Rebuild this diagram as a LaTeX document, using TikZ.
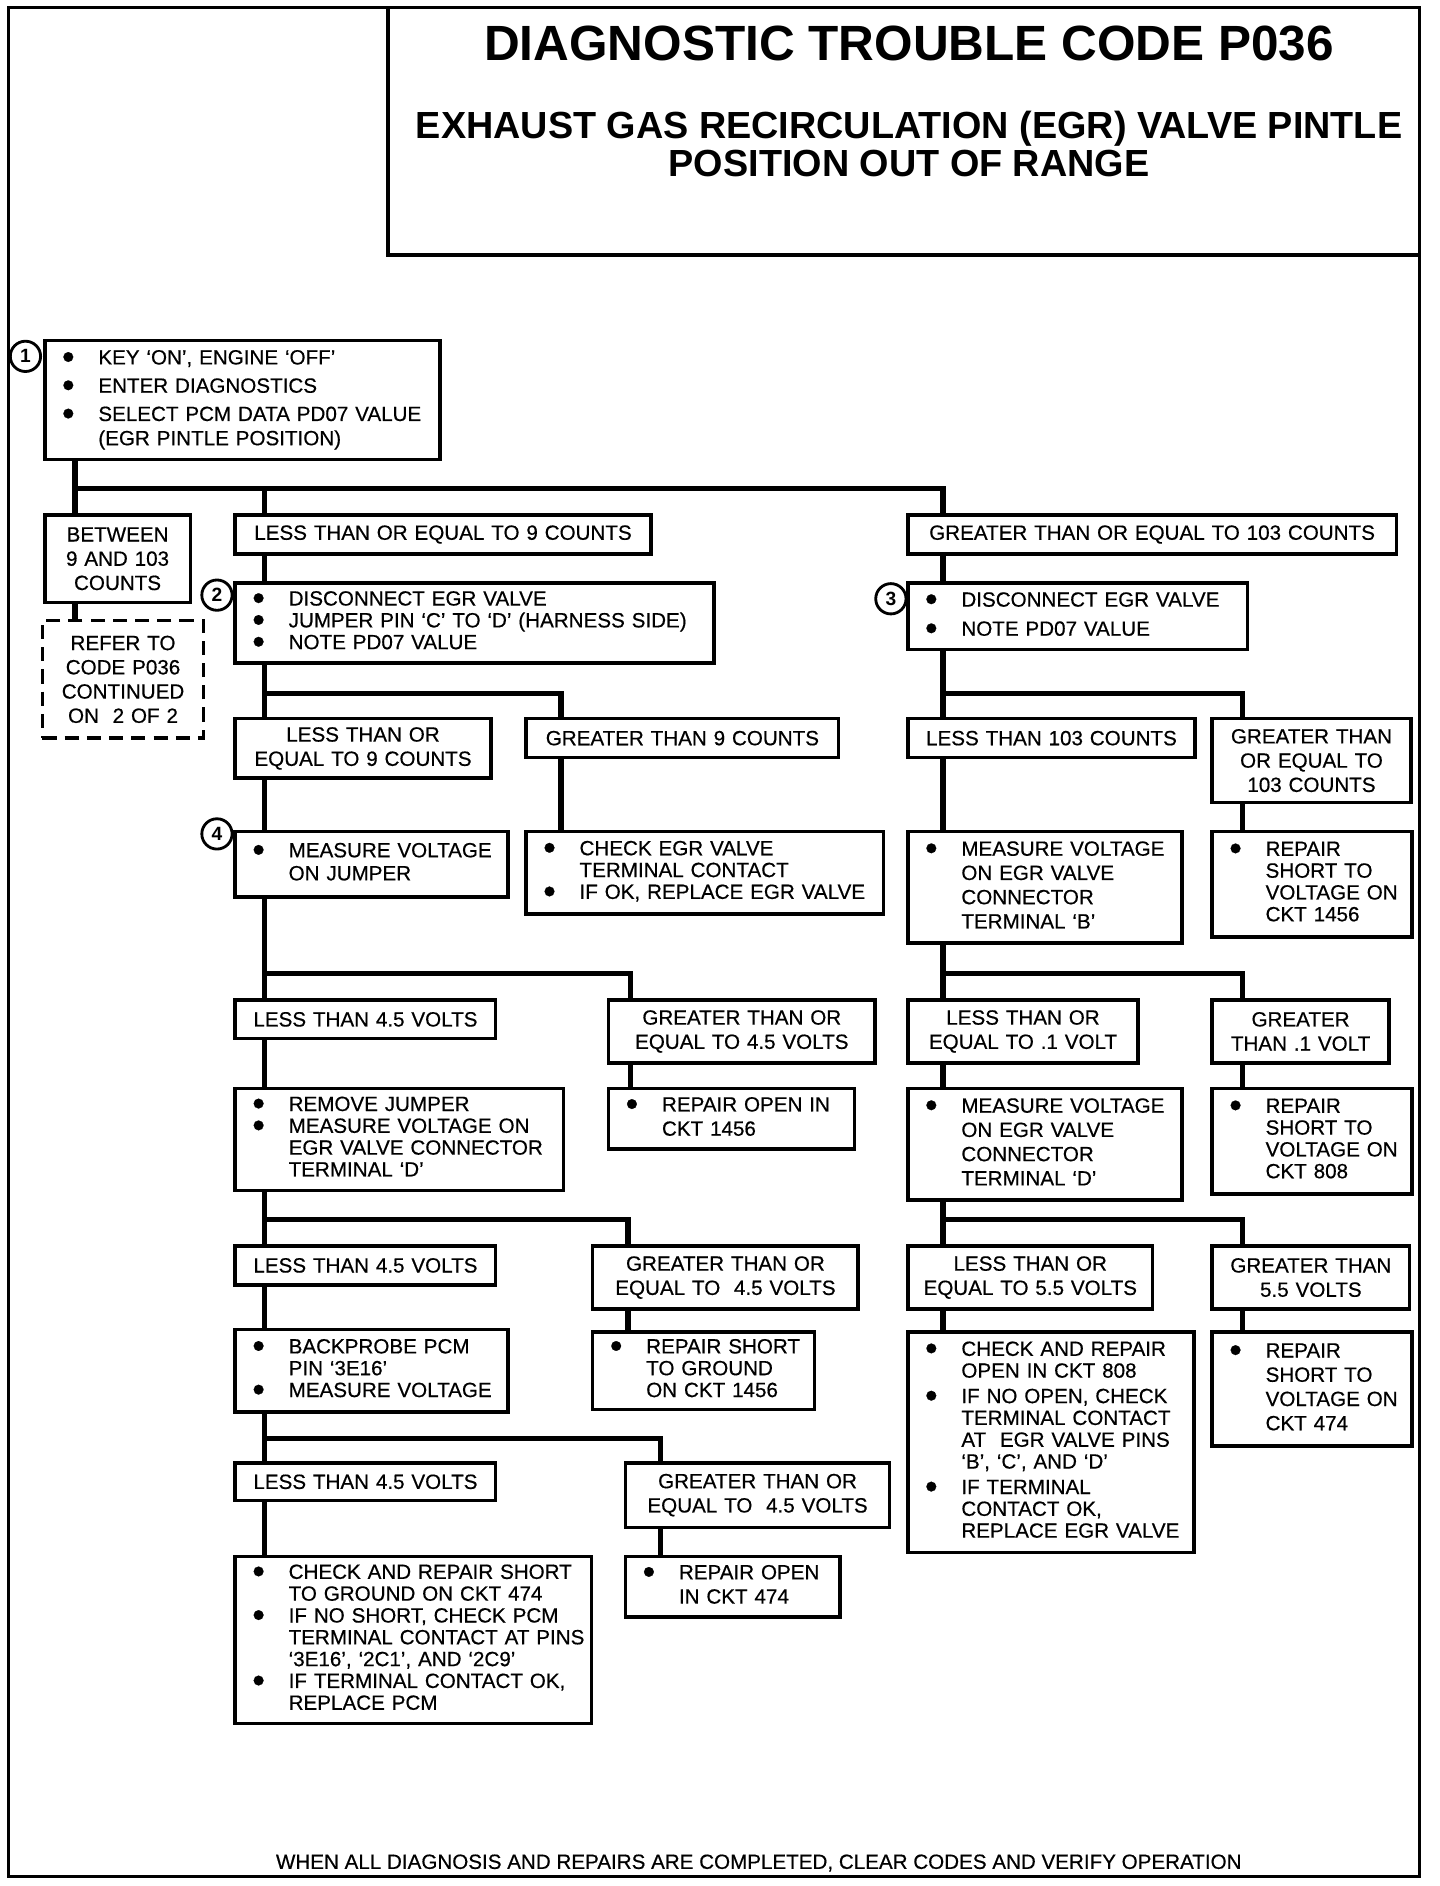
\documentclass[tikz,border=0pt]{standalone}
\usepackage{fontspec}
\setmainfont{Liberation Sans}
\newfontface\inkfont{Liberation Sans}[FakeBold=0.5,Ligatures=TeX]
\usepackage{graphicx}
\usetikzlibrary{calc}
\newcommand{\bul}{\hspace*{1pt}\raisebox{-0.22em}{\scalebox{1.75}{\textbullet}}}
\newenvironment{bl}{\begin{tabular}[c]{@{}p{19pt}@{}l@{}}}{\end{tabular}}
\newcommand{\BB}[7][]{%
  \pgfmathsetmacro{\bxw}{(#5-#3)*0.6}%
  \pgfmathsetmacro{\bxh}{(#6-#4)*0.6}%
  \pgfmathsetmacro{\bxt}{(#5-#3)*0.6-15}%
  \node[box,#1, inner xsep=7.5pt, align=left, minimum width=\bxw pt, minimum height=\bxh pt, text width=\bxt pt] (#2) at ({(#3+#5)/2},{(#4+#6)/2}) {#7};}
\newcommand{\CC}[7][]{%
  \pgfmathsetmacro{\bxw}{(#5-#3)*0.6}%
  \pgfmathsetmacro{\bxh}{(#6-#4)*0.6}%
  \pgfmathsetmacro{\bxt}{(#5-#3)*0.6-6}%
  \node[box, inner xsep=3pt, align=center, font=\inkfont\fontsize{10.2}{12}\selectfont, minimum width=\bxw pt, minimum height=\bxh pt, text width=\bxt pt,#1] (#2) at ({(#3+#5)/2},{(#4+#6)/2}) {#7};}
\begin{document}
\begin{tikzpicture}[x=0.6pt,y=-0.6pt,
  box/.style={draw, line width=1.7pt, inner ysep=0pt, font=\inkfont\fontsize{10.2}{10.8}\selectfont},
  conn/.style={line width=2.7pt},
  numc/.style={circle, draw, line width=1.4pt, minimum size=15pt, inner sep=0pt, font=\bfseries\fontsize{9.5}{9.5}\selectfont}]
\useasboundingbox (0,0) rectangle (1188,1556);
% frame and title box
\draw[line width=1.5pt] (7,6) -- (1171,6) -- (1171,1548) -- (7,1548) -- cycle;
\draw[line width=2pt] (320,6) -- (320,210) -- (1171,210);
\node[font=\fontsize{24.5}{28}\selectfont\bfseries] (title) at (750,36) {DIAGNOSTIC TROUBLE CODE P036};
\node[font=\fontsize{18.7}{18.6}\selectfont\bfseries, align=center] (sub) at (750,119) {EXHAUST GAS RECIRCULATION (EGR) VALVE PINTLE\\POSITION OUT OF RANGE};

% step boxes
\BB{b1}{37}{281}{363}{379}{\fontsize{10.2}{12}\selectfont\begin{bl}\bul & KEY `ON', ENGINE `OFF'\\[2pt] \bul & ENTER DIAGNOSTICS\\[2pt] \bul & SELECT PCM DATA PD07 VALUE\\ & (EGR PINTLE POSITION)\end{bl}}
\CC{bbet}{37}{425}{157}{497}{BETWEEN\\9 AND 103\\COUNTS}
\CC[dashed, dash pattern=on 7pt off 4pt]{bref}{35}{512}{168}{609}{REFER TO\\CODE P036\\CONTINUED\\ON~~2 OF 2}
\CC{ble9}{194}{425}{537}{457}{LESS THAN OR EQUAL TO 9 COUNTS}
\CC{bge103}{749}{425}{1152}{457}{GREATER THAN OR EQUAL TO 103 COUNTS}
\BB{b2}{194}{481}{589}{547}{\begin{bl}\bul & DISCONNECT EGR VALVE\\ \bul & JUMPER PIN `C' TO `D' (HARNESS SIDE)\\ \bul & NOTE PD07 VALUE\end{bl}}
\BB{b3}{749}{481}{1029}{536}{\fontsize{10.2}{12}\selectfont\begin{bl}\bul & DISCONNECT EGR VALVE\\[2.4pt] \bul & NOTE PD07 VALUE\end{bl}}
\CC{ble9b}{194}{593}{405}{642}{LESS THAN OR\\EQUAL TO 9 COUNTS}
\CC{bgt9}{434}{593}{692}{625}{GREATER THAN 9 COUNTS}
\CC{blt103}{749}{593}{986}{625}{LESS THAN 103 COUNTS}
\CC{bge103b}{1000}{593}{1164}{662}{GREATER THAN\\OR EQUAL TO\\103 COUNTS}
\BB{b4}{194}{686}{419}{740}{\fontsize{10.2}{11.4}\selectfont\begin{bl}\bul & MEASURE VOLTAGE\\ & ON JUMPER\end{bl}}
\BB{bgt9a}{434}{686}{729}{754}{\begin{bl}\bul & CHECK EGR VALVE\\ & TERMINAL CONTACT\\ \bul & IF OK, REPLACE EGR VALVE\end{bl}}
\BB{blt103a}{749}{686}{975}{778}{\fontsize{10.2}{12}\selectfont\begin{bl}\bul & MEASURE VOLTAGE\\ & ON EGR VALVE\\ & CONNECTOR\\ & TERMINAL `B'\end{bl}}
\BB{bge103a}{1000}{686}{1165}{773}{\begin{bl}\bul & REPAIR\\ & SHORT TO\\ & VOLTAGE ON\\ & CKT 1456\end{bl}}
\CC{blt45}{194}{825}{409}{857}{LESS THAN 4.5 VOLTS}
\CC{bge45}{502}{825}{722}{877}{GREATER THAN OR\\EQUAL TO 4.5 VOLTS}
\CC{ble01}{749}{825}{939}{877}{LESS THAN OR\\EQUAL TO .1 VOLT}
\CC{bgt01}{1000}{825}{1146}{877}{GREATER\\THAN .1 VOLT}
\BB{brem}{194}{898}{465}{982}{\begin{bl}\bul & REMOVE JUMPER\\ \bul & MEASURE VOLTAGE ON\\ & EGR VALVE CONNECTOR\\ & TERMINAL `D'\end{bl}}
\BB{bro1456}{502}{898}{705}{948}{\fontsize{10.2}{12}\selectfont\begin{bl}\bul & REPAIR OPEN IN\\ & CKT 1456\end{bl}}
\BB{bmeasD}{749}{898}{975}{990}{\fontsize{10.2}{12}\selectfont\begin{bl}\bul & MEASURE VOLTAGE\\ & ON EGR VALVE\\ & CONNECTOR\\ & TERMINAL `D'\end{bl}}
\BB{brs808}{1000}{898}{1165}{985}{\begin{bl}\bul & REPAIR\\ & SHORT TO\\ & VOLTAGE ON\\ & CKT 808\end{bl}}
\CC{blt45b}{194}{1028}{409}{1060}{LESS THAN 4.5 VOLTS}
\CC{bge45b}{489}{1028}{708}{1080}{GREATER THAN OR\\EQUAL TO~~4.5 VOLTS}
\CC{ble55}{749}{1028}{951}{1080}{LESS THAN OR\\EQUAL TO 5.5 VOLTS}
\CC{bgt55}{1000}{1028}{1163}{1080}{GREATER THAN\\5.5 VOLTS}
\BB{bback}{194}{1097}{419}{1165}{\begin{bl}\bul & BACKPROBE PCM\\ & PIN `3E16'\\ \bul & MEASURE VOLTAGE\end{bl}}
\BB{brsg}{489}{1099}{672}{1163}{\begin{bl}\bul & REPAIR SHORT\\ & TO GROUND\\ & ON CKT 1456\end{bl}}
\BB{bchk}{749}{1099}{985}{1281}{\begin{bl}\bul & CHECK AND REPAIR\\ & OPEN IN CKT 808\\[1.8pt] \bul & IF NO OPEN, CHECK\\ & TERMINAL CONTACT\\ & AT~~EGR VALVE PINS\\ & `B', `C', AND `D'\\[1.8pt] \bul & IF TERMINAL\\ & CONTACT OK,\\ & REPLACE EGR VALVE\end{bl}}
\BB{brs474}{1000}{1099}{1165}{1193}{\fontsize{10.2}{12}\selectfont\begin{bl}\bul & REPAIR\\ & SHORT TO\\ & VOLTAGE ON\\ & CKT 474\end{bl}}
\CC{blt45c}{194}{1207}{409}{1238}{LESS THAN 4.5 VOLTS}
\CC{bge45c}{516}{1207}{734}{1260}{GREATER THAN OR\\EQUAL TO~~4.5 VOLTS}
\BB{bfinal}{194}{1284}{488}{1422}{\begin{bl}\bul & CHECK AND REPAIR SHORT\\ & TO GROUND ON CKT 474\\ \bul & IF NO SHORT, CHECK PCM\\ & TERMINAL CONTACT AT PINS\\ & `3E16', `2C1', AND `2C9'\\ \bul & IF TERMINAL CONTACT OK,\\ & REPLACE PCM\end{bl}}
\BB{bro474}{516}{1284}{693}{1334}{\fontsize{10.2}{12}\selectfont\begin{bl}\bul & REPAIR OPEN\\ & IN CKT 474\end{bl}}

% numbered circles
\node[numc] (n1) at (21,294) {1};
\node[numc] (n2) at (179,491) {2};
\node[numc] (n3) at (735,494) {3};
\node[numc] (n4) at (179,688) {4};

% connectors
\coordinate (t0) at (62,403); \coordinate (t1) at (218,403); \coordinate (t2) at (778,403);
\draw[conn] (b1.south -| t0) -- (bbet.north -| t0);
\draw[conn] (t0) -- (t2) -- (bge103.north -| t2);
\draw[conn] (t1) -- (ble9.north -| t1);
\draw[conn] (bbet.south -| t0) -- (bref.north -| t0);
\draw[conn] (ble9.south -| t1) -- (b2.north -| t1);
\draw[conn] (bge103.south -| t2) -- (b3.north -| t2);

\coordinate (u0) at (218,572); \coordinate (u1) at (463,572);
\coordinate (v0) at (778,572); \coordinate (v1) at (1025,572);
\draw[conn] (b2.south -| u0) -- (ble9b.north -| u0);
\draw[conn] (u0) -- (u1) -- (bgt9.north -| u1);
\draw[conn] (b3.south -| v0) -- (blt103.north -| v0);
\draw[conn] (v0) -- (v1) -- (bge103b.north -| v1);
\draw[conn] (ble9b.south -| u0) -- (b4.north -| u0);
\draw[conn] (bgt9.south -| u1) -- (bgt9a.north -| u1);
\draw[conn] (blt103.south -| v0) -- (blt103a.north -| v0);
\draw[conn] (bge103b.south -| v1) -- (bge103a.north -| v1);

\coordinate (w0) at (218,803); \coordinate (w1) at (520,803);
\coordinate (z0) at (778,803); \coordinate (z1) at (1025,803);
\draw[conn] (b4.south -| w0) -- (blt45.north -| w0);
\draw[conn] (w0) -- (w1) -- (bge45.north -| w1);
\draw[conn] (blt103a.south -| z0) -- (ble01.north -| z0);
\draw[conn] (z0) -- (z1) -- (bgt01.north -| z1);
\draw[conn] (blt45.south -| w0) -- (brem.north -| w0);
\draw[conn] (bge45.south -| w1) -- (bro1456.north -| w1);
\draw[conn] (ble01.south -| z0) -- (bmeasD.north -| z0);
\draw[conn] (bgt01.south -| z1) -- (brs808.north -| z1);

\coordinate (p0) at (218,1006); \coordinate (p1) at (518,1006);
\coordinate (q0) at (778,1006); \coordinate (q1) at (1025,1006);
\draw[conn] (brem.south -| p0) -- (blt45b.north -| p0);
\draw[conn] (p0) -- (p1) -- (bge45b.north -| p1);
\draw[conn] (bmeasD.south -| q0) -- (ble55.north -| q0);
\draw[conn] (q0) -- (q1) -- (bgt55.north -| q1);
\draw[conn] (blt45b.south -| p0) -- (bback.north -| p0);
\draw[conn] (bge45b.south -| p1) -- (brsg.north -| p1);
\draw[conn] (ble55.south -| q0) -- (bchk.north -| q0);
\draw[conn] (bgt55.south -| q1) -- (brs474.north -| q1);

\coordinate (r0) at (218,1187); \coordinate (r1) at (545,1187);
\draw[conn] (bback.south -| r0) -- (blt45c.north -| r0);
\draw[conn] (r0) -- (r1) -- (bge45c.north -| r1);
\draw[conn] (blt45c.south -| r0) -- (bfinal.north -| r0);
\draw[conn] (bge45c.south -| r1) -- (bro474.north -| r1);

\node[font=\inkfont\fontsize{10.2}{12}\selectfont] (foot) at (626,1537) {WHEN ALL DIAGNOSIS AND REPAIRS ARE COMPLETED, CLEAR CODES AND VERIFY OPERATION};
\end{tikzpicture}
\end{document}
